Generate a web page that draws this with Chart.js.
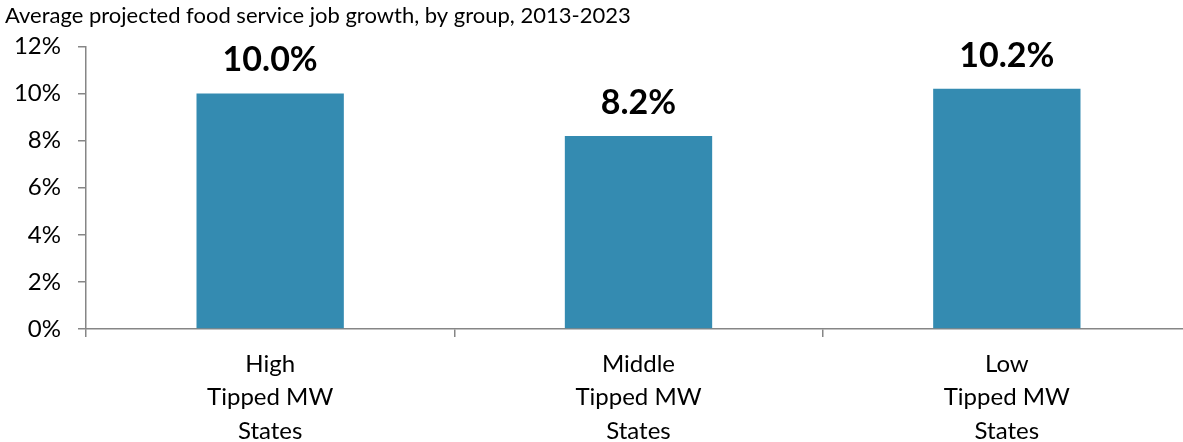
<!DOCTYPE html>
<html>
<head>
<meta charset="utf-8">
<script src="https://cdn.jsdelivr.net/npm/chart.js@4.4.1/dist/chart.umd.min.js"></script>
<style>
	html, body { margin: 0; padding: 0; background: #fff; overflow: hidden; }
	#wrap { position: relative; width: 1191px; height: 442px; }
</style>
</head>
<body>
<div id="wrap"><canvas id="chart"></canvas></div>
<script>
const categories = [
	["High", "Tipped MW", "States"],
	["Middle", "Tipped MW", "States"],
	["Low", "Tipped MW", "States"],
];
const growthValues = [10.0, 8.2, 10.2];
const yTicks = [0, 2, 4, 6, 8, 10, 12];
const chartTitle = "Average projected food service job growth, by group, 2013-2023";

const FONT = "Lato, 'Open Sans', sans-serif";
const axisColor = "#868686";

// value labels above each bar
const barLabels = {
	id: "barLabels",
	afterDatasetsDraw(chart) {
		const ctx = chart.ctx;
		const meta = chart.getDatasetMeta(0);
		ctx.save();
		ctx.font = `bold 34px ${FONT}`;
		ctx.fillStyle = "#000";
		ctx.textAlign = "center";
		ctx.textBaseline = "middle";
		meta.data.forEach((bar, i) => {
			ctx.fillText(growthValues[i].toFixed(1) + "%", bar.x, bar.y - 33);
		});
		ctx.restore();
	},
};

new Chart(document.getElementById("chart"), {
	type: "bar",
	data: {
		labels: categories,
		datasets: [
			{
				data: growthValues,
				backgroundColor: "#348BB1",
				barPercentage: 0.4,
				categoryPercentage: 1,
			},
		],
	},
	options: {
		responsive: true,
		maintainAspectRatio: false,
		animation: false,
		layout: { padding: { left: 5, top: 0, right: 0, bottom: 0 } },
		plugins: {
			legend: { display: false },
			tooltip: { enabled: false },
			title: {
				display: true,
				text: chartTitle,
				align: "start",
				color: "#000",
				font: { family: FONT, size: 22, weight: "normal" },
				padding: { top: 3, bottom: 17 },
			},
		},
		scales: {
			x: {
				afterFit(scale) { scale.height = 113; },
				border: { display: true, color: axisColor, width: 1.5 },
				grid: {
					display: true,
					drawOnChartArea: false,
					drawTicks: true,
					tickLength: 8,
					color: axisColor,
					lineWidth: 1.5,
				},
				ticks: {
					color: "#000",
					padding: 11,
					font: { family: FONT, size: 24, lineHeight: 1.38 },
				},
			},
			y: {
				min: 0,
				max: 12,
				afterFit(scale) { scale.width = 81; },
				afterBuildTicks(scale) { scale.ticks = yTicks.map(v => ({ value: v })); },
				border: { display: true, color: axisColor, width: 1.5 },
				grid: {
					display: true,
					drawOnChartArea: false,
					drawTicks: true,
					tickLength: 8,
					color: axisColor,
					lineWidth: 1.5,
				},
				ticks: {
					color: "#000",
					padding: 17,
					font: { family: FONT, size: 24 },
					callback: v => v + "%",
				},
			},
		},
	},
	plugins: [barLabels],
});
</script>
</body>
</html>
